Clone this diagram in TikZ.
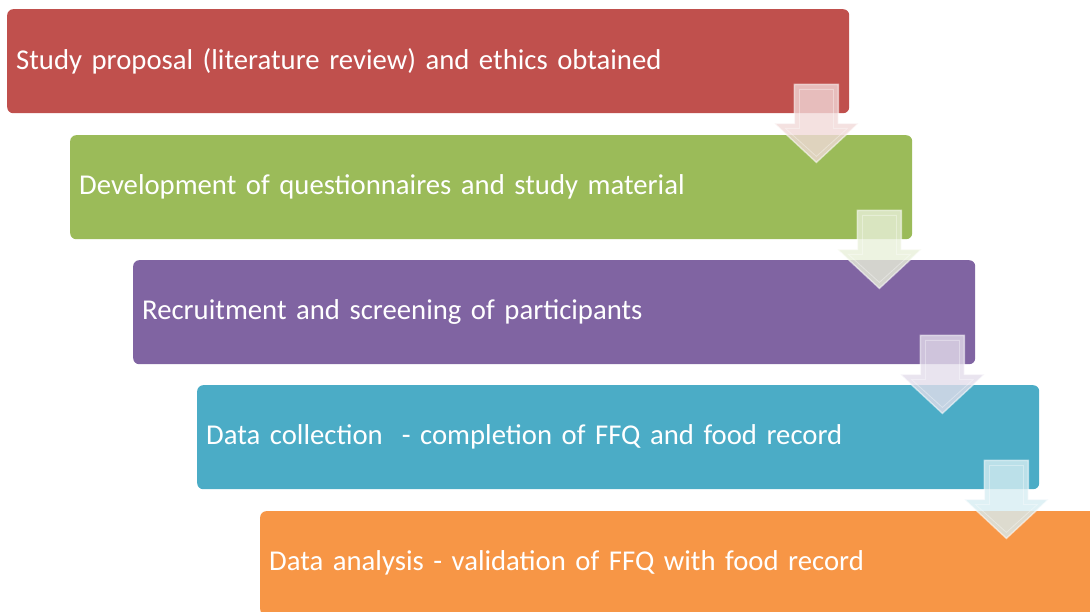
\documentclass[tikz,border=0pt]{standalone}
\usepackage{fontspec}
\setmainfont{Carlito}
\usetikzlibrary{calc}
\definecolor{stepred}{HTML}{C0504D}
\definecolor{stepgreen}{HTML}{9BBB59}
\definecolor{steppurple}{HTML}{8064A2}
\definecolor{stepblue}{HTML}{4BACC6}
\definecolor{steporange}{HTML}{F79646}
\newcommand{\stagefont}{\fontsize{28.7}{33}\selectfont}
\tikzset{
  stagebox/.style={anchor=north west, rounded corners=6pt, minimum width=842pt,
    minimum height=104pt, text width=824pt, align=left, inner xsep=8pt,
    text=white, font=\stagefont},
  flowarrow/.pic={
    \path[fill=#1!22!white, fill opacity=0.8, draw=white, draw opacity=0.55,
          line width=1.4pt, line join=miter]
      (-22,0) -- (22,0) -- (22,39) -- (42,39) -- (0,78) -- (-42,39) -- (-22,39) -- cycle;
    \path[draw=white, draw opacity=0.35, line width=0.8pt, line join=miter]
      (-17,5) -- (17,5) -- (17,44) -- (31,44) -- (0,72) -- (-31,44) -- (-17,44) -- cycle;
  }
}
\begin{document}
\begin{tikzpicture}[x=1pt,y=-1pt]
\useasboundingbox (0,0) rectangle (1090,612);
\clip (0,0) rectangle (1090,612);
\node[stagebox, fill=stepred]    (b1) at (7,9)     {Study proposal (literature review) and ethics obtained};
\node[stagebox, fill=stepgreen]  (b2) at (70,135)  {Development of questionnaires and study material};
\node[stagebox, fill=steppurple] (b3) at (133,260) {Recruitment and screening of participants};
\node[stagebox, fill=stepblue]   (b4) at (197,385) {Data collection\ \ - completion of FFQ and food record};
\node[stagebox, fill=steporange] (b5) at (260,511) {Data analysis - validation of FFQ with food record};
% down arrows hanging from the lower right corner of each stage
\coordinate (a1) at ($(b1.south east)+(-33,-29)$);
\coordinate (a2) at ($(b2.south east)+(-33,-29)$);
\coordinate (a3) at ($(b3.south east)+(-33,-29)$);
\coordinate (a4) at ($(b4.south east)+(-33,-29)$);
\pic at (a1) {flowarrow=stepred};
\pic at (a2) {flowarrow=stepgreen};
\pic at (a3) {flowarrow=steppurple};
\pic at (a4) {flowarrow=stepblue};
\end{tikzpicture}
\end{document}
